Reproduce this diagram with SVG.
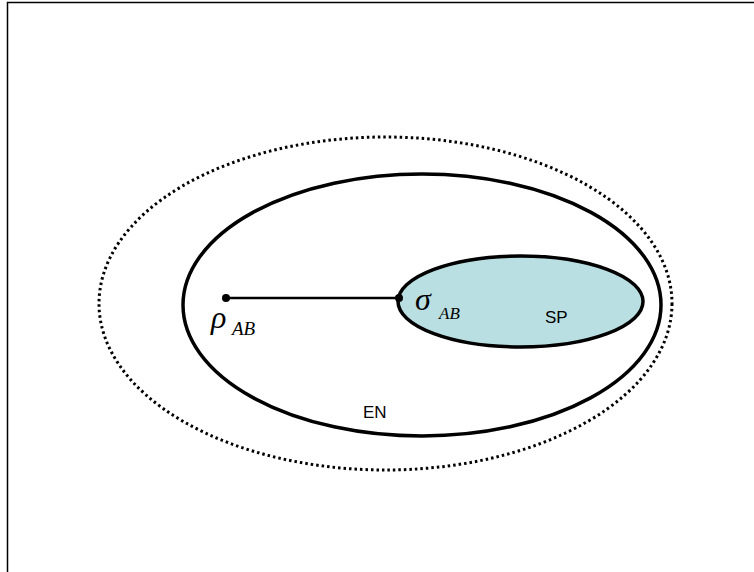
<svg xmlns="http://www.w3.org/2000/svg" width="754" height="572" viewBox="0 0 754 572">
<style>
.frame{stroke:#000;stroke-width:1.5;fill:none}
.outer{fill:none;stroke:#000;stroke-width:3;stroke-dasharray:2.5 3}
.main{fill:none;stroke:#000;stroke-width:3.5}
.sp{fill:#b9dfe2;stroke:#000;stroke-width:3.5}
.sym{font-family:"Liberation Serif",serif;font-style:italic;fill:#000}
.lbl{font-family:"Liberation Sans",Arial,sans-serif;font-size:17px;fill:#000}
</style>
<rect width="754" height="572" fill="#fff"/>
<path class="frame" d="M7.5,572 V2.5 H754"/>
<g id="outer-set"><ellipse class="outer" cx="385.5" cy="303.5" rx="286.5" ry="166.5"/></g>
<g id="EN"><ellipse class="main" cx="422" cy="305" rx="239" ry="131"/><text class="lbl" x="363" y="418">EN</text></g>
<g id="SP"><ellipse class="sp" cx="520.5" cy="301.5" rx="122.5" ry="45.5"/><text class="lbl" x="545" y="323">SP</text></g>
<g id="connectors"><line x1="226" y1="298" x2="399" y2="298" stroke="#000" stroke-width="2.5"/></g>
<g id="rho"><circle cx="226" cy="298" r="4"/><text class="sym" x="211" y="328" font-size="32">ρ</text><text class="sym" x="232" y="335" font-size="19">AB</text></g>
<g id="sigma"><circle cx="399" cy="298" r="4"/><text class="sym" x="415" y="310" font-size="32">σ</text><text class="sym" x="439" y="319" font-size="17">AB</text></g>
</svg>
